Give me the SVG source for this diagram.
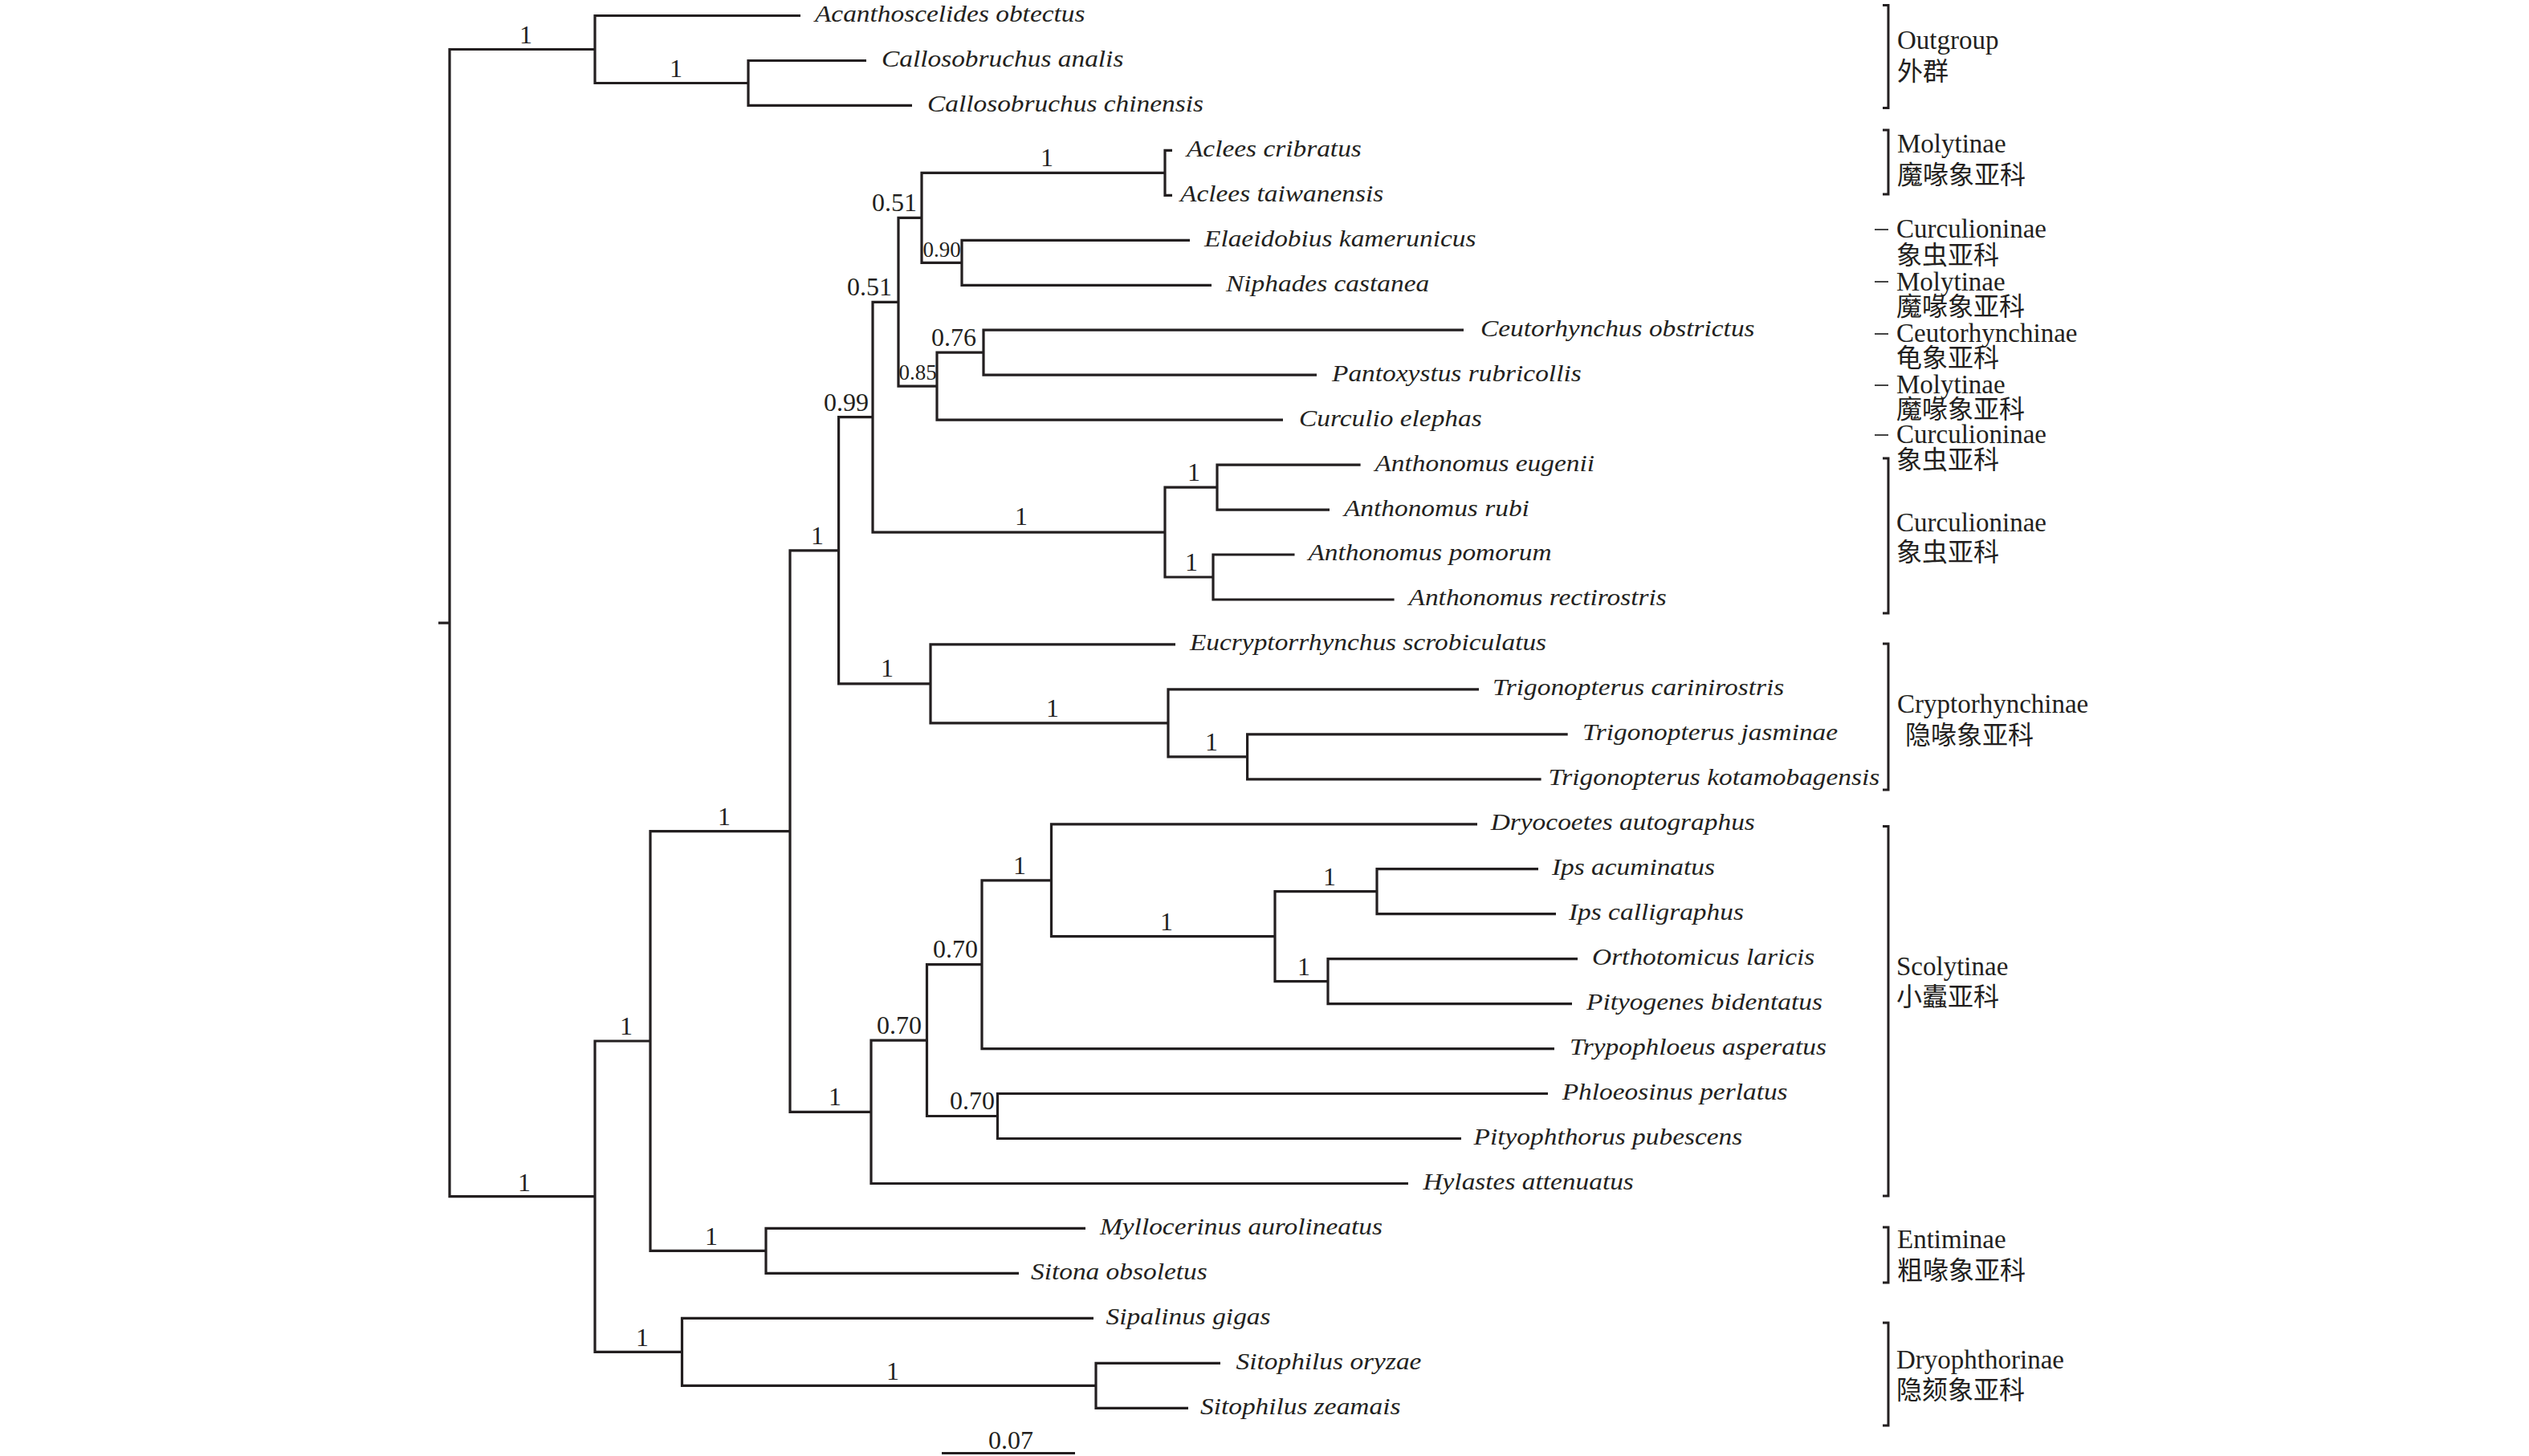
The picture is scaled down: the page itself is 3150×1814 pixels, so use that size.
<svg xmlns="http://www.w3.org/2000/svg" width="3150" height="1814" viewBox="0 0 3150 1814">
<style>
.e{fill:none;stroke:#231f20;stroke-width:3.2;stroke-linejoin:miter;stroke-linecap:butt}
.br{fill:none;stroke:#231f20;stroke-width:3}
.ds{fill:none;stroke:#444;stroke-width:2}
.sp{font-family:"Liberation Serif","Times New Roman",serif;font-style:italic;font-size:30px;fill:#231f20}
.bs{font-family:"Liberation Serif","Times New Roman",serif;font-size:32px;fill:#231f20;text-anchor:middle}
.bs2{font-family:"Liberation Serif","Times New Roman",serif;font-size:27px;fill:#231f20;text-anchor:middle}
.gl{font-family:"Liberation Serif","Times New Roman",serif;font-size:33px;fill:#231f20}
.cj{font-family:"Liberation Serif","Noto Sans CJK SC",sans-serif;font-size:32px;fill:#231f20}
</style>
<rect width="3150" height="1814" fill="#fff"/>
<g id="connectors">
<path class="e" d="M546 776.1H560"/>
<path class="e" d="M741 61.5H560V1490.7H741"/>
<path class="e" d="M997 19.5H741V103.5H932"/>
<path class="e" d="M1079 75.5H932V131.4H1136"/>
<path class="e" d="M810 1297H741V1684.3H849.5"/>
<path class="e" d="M984 1035.6H810V1558.4H954"/>
<path class="e" d="M1352 1530.4H954V1586.4H1269"/>
<path class="e" d="M1362 1642.3H849.5V1726.3H1365"/>
<path class="e" d="M1520 1698.3H1365V1754.3H1480"/>
<path class="e" d="M1044.6 685.8H984V1385.3H1085"/>
<path class="e" d="M1087 519.7H1044.6V851.9H1159"/>
<path class="e" d="M1119 376.3H1087V663.1H1451"/>
<path class="e" d="M1148 271.4H1119V481.2H1167"/>
<path class="e" d="M1451 215.4H1148V327.3H1198"/>
<path class="e" d="M1460 187.4H1451V243.3H1460"/>
<path class="e" d="M1482 299.3H1198V355.3H1509"/>
<path class="e" d="M1225 439.2H1167V523.1H1598"/>
<path class="e" d="M1823 411.2H1225V467.2H1640"/>
<path class="e" d="M1516 607.1H1451V719H1511"/>
<path class="e" d="M1694.6 579.1H1516V635.1H1656"/>
<path class="e" d="M1612.5 691H1511V747H1736.6"/>
<path class="e" d="M1464 802.9H1159V900.9H1455"/>
<path class="e" d="M1842 858.9H1455V942.9H1553.6"/>
<path class="e" d="M1952.7 914.9H1553.6V970.8H1919.6"/>
<path class="e" d="M1154.5 1296.1H1085V1474.5H1754"/>
<path class="e" d="M1223 1201.7H1154.5V1390.5H1242.5"/>
<path class="e" d="M1309.5 1096.8H1223V1306.6H1936"/>
<path class="e" d="M1840 1026.8H1309.5V1166.7H1588"/>
<path class="e" d="M1715 1110.7H1588V1222.7H1654"/>
<path class="e" d="M1916 1082.7H1715V1138.7H1938"/>
<path class="e" d="M1965 1194.7H1654V1250.6H1958"/>
<path class="e" d="M1928 1362.5H1242.5V1418.5H1820"/>
</g>
<g id="support-values">
<text class="bs" x="655" y="54">1</text>
<text class="bs" x="842" y="96">1</text>
<text class="bs" x="653" y="1484">1</text>
<text class="bs" x="800" y="1677">1</text>
<text class="bs" x="1112" y="1719">1</text>
<text class="bs" x="886" y="1551">1</text>
<text class="bs" x="780" y="1289">1</text>
<text class="bs" x="902" y="1028">1</text>
<text class="bs" x="1040" y="1377">1</text>
<text class="bs" x="1120" y="1288">0.70</text>
<text class="bs" x="1190" y="1193">0.70</text>
<text class="bs" x="1270" y="1089">1</text>
<text class="bs" x="1453" y="1159">1</text>
<text class="bs" x="1656" y="1103">1</text>
<text class="bs" x="1624" y="1215">1</text>
<text class="bs" x="1211" y="1382">0.70</text>
<text class="bs" x="1018" y="678">1</text>
<text class="bs" x="1054" y="512">0.99</text>
<text class="bs" x="1083" y="368">0.51</text>
<text class="bs" x="1114" y="263">0.51</text>
<text class="bs2" x="1173" y="320">0.90</text>
<text class="bs2" x="1143" y="473">0.85</text>
<text class="bs" x="1188" y="431">0.76</text>
<text class="bs" x="1304" y="207">1</text>
<text class="bs" x="1272" y="654">1</text>
<text class="bs" x="1487" y="599">1</text>
<text class="bs" x="1484" y="711">1</text>
<text class="bs" x="1105" y="843">1</text>
<text class="bs" x="1311" y="893">1</text>
<text class="bs" x="1509" y="935">1</text>
</g>
<g id="taxa" transform="scale(1.113 1)">
<g id="t00"><text class="sp" x="911.9" y="27">Acanthoscelides obtectus</text></g>
<g id="t01"><text class="sp" x="986.5" y="83">Callosobruchus analis</text></g>
<g id="t02"><text class="sp" x="1037.7" y="138.9">Callosobruchus chinensis</text></g>
<g id="t03"><text class="sp" x="1327.9" y="194.9">Aclees cribratus</text></g>
<g id="t04"><text class="sp" x="1320.8" y="250.8">Aclees taiwanensis</text></g>
<g id="t05"><text class="sp" x="1347.7" y="306.8">Elaeidobius kamerunicus</text></g>
<g id="t06"><text class="sp" x="1372" y="362.8">Niphades castanea</text></g>
<g id="t07"><text class="sp" x="1656.8" y="418.7">Ceutorhynchus obstrictus</text></g>
<g id="t08"><text class="sp" x="1490.6" y="474.7">Pantoxystus rubricollis</text></g>
<g id="t09"><text class="sp" x="1453.7" y="530.6">Curculio elephas</text></g>
<g id="t10"><text class="sp" x="1538.6" y="586.6">Anthonomus eugenii</text></g>
<g id="t11"><text class="sp" x="1504" y="642.6">Anthonomus rubi</text></g>
<g id="t12"><text class="sp" x="1464" y="698.5">Anthonomus pomorum</text></g>
<g id="t13"><text class="sp" x="1576.4" y="754.5">Anthonomus rectirostris</text></g>
<g id="t14"><text class="sp" x="1331.5" y="810.4">Eucryptorrhynchus scrobiculatus</text></g>
<g id="t15"><text class="sp" x="1670.3" y="866.4">Trigonopterus carinirostris</text></g>
<g id="t16"><text class="sp" x="1770.9" y="922.4">Trigonopterus jasminae</text></g>
<g id="t17"><text class="sp" x="1732.8" y="978.3">Trigonopterus kotamobagensis</text></g>
<g id="t18"><text class="sp" x="1668.2" y="1034.3">Dryocoetes autographus</text></g>
<g id="t19"><text class="sp" x="1736.7" y="1090.2">Ips acuminatus</text></g>
<g id="t20"><text class="sp" x="1755.6" y="1146.2">Ips calligraphus</text></g>
<g id="t21"><text class="sp" x="1781.7" y="1202.2">Orthotomicus laricis</text></g>
<g id="t22"><text class="sp" x="1775.4" y="1258.1">Pityogenes bidentatus</text></g>
<g id="t23"><text class="sp" x="1756.5" y="1314.1">Trypophloeus asperatus</text></g>
<g id="t24"><text class="sp" x="1748.1" y="1370">Phloeosinus perlatus</text></g>
<g id="t25"><text class="sp" x="1649.2" y="1426">Pityophthorus pubescens</text></g>
<g id="t26"><text class="sp" x="1592.5" y="1482">Hylastes attenuatus</text></g>
<g id="t27"><text class="sp" x="1230.9" y="1537.9">Myllocerinus aurolineatus</text></g>
<g id="t28"><text class="sp" x="1153.6" y="1593.9">Sitona obsoletus</text></g>
<g id="t29"><text class="sp" x="1237.7" y="1649.8">Sipalinus gigas</text></g>
<g id="t30"><text class="sp" x="1383.2" y="1705.8">Sitophilus oryzae</text></g>
<g id="t31"><text class="sp" x="1343.2" y="1761.8">Sitophilus zeamais</text></g>
</g>
<g id="groups">
<g id="g-outgroup"><path class="br" d="M2345 6.5H2352V134.5H2345"/><text class="gl" x="2363" y="61">Outgroup</text><text class="cj" x="2363" y="100">外群</text></g>
<g id="g-moly1"><path class="br" d="M2345 162H2352V242H2345"/><text class="gl" x="2363" y="190">Molytinae</text><text class="cj" x="2363" y="229">魔喙象亚科</text></g>
<g id="g-curc1"><path class="ds" d="M2335 286H2352"/><text class="gl" x="2362" y="296">Curculioninae</text><text class="cj" x="2362" y="329">象虫亚科</text></g>
<g id="g-moly2"><path class="ds" d="M2335 351H2352"/><text class="gl" x="2362" y="362">Molytinae</text><text class="cj" x="2362" y="393">魔喙象亚科</text></g>
<g id="g-ceut"><path class="ds" d="M2335 416H2352"/><text class="gl" x="2362" y="426">Ceutorhynchinae</text><text class="cj" x="2362" y="457">龟象亚科</text></g>
<g id="g-moly3"><path class="ds" d="M2335 480H2352"/><text class="gl" x="2362" y="490">Molytinae</text><text class="cj" x="2362" y="521">魔喙象亚科</text></g>
<g id="g-curc2"><path class="ds" d="M2335 542H2352"/><text class="gl" x="2362" y="552">Curculioninae</text><text class="cj" x="2362" y="584">象虫亚科</text></g>
<g id="g-curc3"><path class="br" d="M2345 571H2352V764H2345"/><text class="gl" x="2362" y="662">Curculioninae</text><text class="cj" x="2362" y="699">象虫亚科</text></g>
<g id="g-crypt"><path class="br" d="M2345 802H2352V984H2345"/><text class="gl" x="2363" y="888">Cryptorhynchinae</text><text class="cj" x="2373" y="927">隐喙象亚科</text></g>
<g id="g-scoly"><path class="br" d="M2345 1029.5H2352V1490H2345"/><text class="gl" x="2362" y="1215">Scolytinae</text><text class="cj" x="2362" y="1253">小蠹亚科</text></g>
<g id="g-enti"><path class="br" d="M2345 1529H2352V1598H2345"/><text class="gl" x="2363" y="1555">Entiminae</text><text class="cj" x="2363" y="1594">粗喙象亚科</text></g>
<g id="g-dryo"><path class="br" d="M2345 1648H2352V1776H2345"/><text class="gl" x="2362" y="1705">Dryophthorinae</text><text class="cj" x="2362" y="1743">隐颏象亚科</text></g>
</g>
<g id="scale-bar">
<path class="e" d="M1173 1810.5H1339"/>
<text class="bs" x="1259" y="1805">0.07</text>
</g>
</svg>
